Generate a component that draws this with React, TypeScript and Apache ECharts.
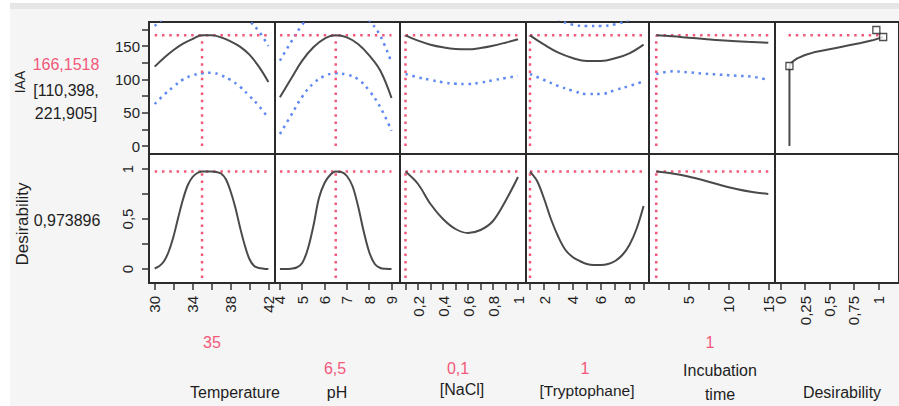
import React, { useEffect, useRef } from "react";
import * as echarts from "echarts";

// ---------- current settings ----------
const IAA_CURRENT = 166.1518;
const DES_CURRENT = 0.973896;

// ---------- Temperature ----------
const tempX = [30, 31, 32, 33, 34, 35, 36, 37, 38, 39, 40, 41, 42];
const tempMean = [119, 132.5, 144, 153.5, 160.5, 166, 166, 163, 157, 149, 137, 119, 96];
const tempLower = [63, 77, 89, 100, 106, 109, 110, 106, 99, 89, 75, 60, 42];
const tempUpper = [180, 192, 199, 207, 215, 223, 222, 220, 215, 205, 188, 172, 150];
const tempDesX = [30, 30.5, 31, 31.5, 32, 32.5, 33, 33.5, 34, 34.5, 35, 35.5, 36, 36.5, 37, 37.5, 38, 38.5, 39, 39.5, 40, 40.5, 41, 41.5, 42];
const tempDes = [0.005, 0.03, 0.08, 0.18, 0.33, 0.52, 0.7, 0.84, 0.92, 0.96, 0.974, 0.975, 0.975, 0.97, 0.955, 0.9, 0.78, 0.62, 0.42, 0.24, 0.1, 0.03, 0.01, 0.003, 0];
const tempTicks = [30, 32, 34, 36, 38, 40, 42];
const tempLabels = [30, 34, 38, 42];

// ---------- pH ----------
const phX = [4, 4.5, 5, 5.5, 6, 6.5, 7, 7.5, 8, 8.5, 9];
const phMean = [73, 101, 128, 148, 161, 166, 163, 153, 136, 113, 72];
const phLower = [18, 46, 74, 94, 105, 109, 107, 100, 83, 58, 23];
const phUpper = [128, 156, 182, 202, 217, 223, 219, 206, 189, 165, 125];
const phDesX = [4, 4.25, 4.5, 4.75, 5, 5.25, 5.5, 5.75, 6, 6.25, 6.5, 6.75, 7, 7.25, 7.5, 7.75, 8, 8.25, 8.5, 8.75, 9];
const phDes = [0, 0, 0.003, 0.015, 0.06, 0.2, 0.43, 0.71, 0.86, 0.94, 0.974, 0.97, 0.93, 0.83, 0.63, 0.38, 0.17, 0.05, 0.01, 0.002, 0];
const phTicks = [4, 5, 6, 7, 8, 9];
const phLabels = [4, 5, 6, 7, 8, 9];

// ---------- [NaCl] ----------
const naclX = [0.1, 0.2, 0.3, 0.4, 0.5, 0.6, 0.7, 0.8, 0.9, 1.0];
const naclMean = [166, 158, 152, 148, 145.5, 145, 147, 150.5, 155, 160];
const naclLower = [108, 103, 99, 95.5, 93.5, 93, 95, 98.5, 102, 105];
const naclUpper = [224, 213, 205, 200, 197.5, 197, 199, 202.5, 208, 215];
const naclDes = [0.974, 0.85, 0.65, 0.5, 0.4, 0.36, 0.39, 0.48, 0.68, 0.92];
const naclTicks = [0.1, 0.2, 0.3, 0.4, 0.5, 0.6, 0.7, 0.8, 0.9, 1];
const naclLabels = [0.2, 0.4, 0.6, 0.8, 1];

// ---------- [Tryptophane] ----------
const trypX = [1, 2, 3, 4, 5, 6, 7, 8, 9];
const trypMean = [166, 152, 140, 132, 127.5, 127.5, 131.5, 139, 152];
const trypLower = [108, 99, 90, 83, 78, 78, 84, 90, 97];
const trypUpper = [224, 205, 190, 182, 180, 180, 182.5, 190, 207];
const trypDesX = [1, 1.5, 2, 2.5, 3, 3.5, 4, 4.5, 5, 5.5, 6, 6.5, 7, 7.5, 8, 8.5, 9];
const trypDes = [0.974, 0.88, 0.7, 0.49, 0.32, 0.19, 0.12, 0.08, 0.05, 0.04, 0.04, 0.05, 0.08, 0.14, 0.24, 0.4, 0.63];
const trypTicks = [1, 2, 3, 4, 5, 6, 7, 8, 9];
const trypLabels = [2, 4, 6, 8];

// ---------- Incubation time ----------
const incX = [1, 3, 5, 7, 9, 11, 13, 15];
const incMean = [166, 164.5, 162.5, 160.5, 158.5, 157, 156, 155];
const incLower = [108, 112, 110.5, 108.5, 107, 105.5, 104, 99];
const incUpper = [224, 217, 214.5, 212.5, 210, 208.5, 208, 211];
const incDes = [0.974, 0.955, 0.925, 0.885, 0.84, 0.8, 0.77, 0.75];
const incTicks = [2.5, 5, 7.5, 10, 12.5, 15];
const incLabels = [5, 10, 15];

// ---------- Desirability function (IAA vs desirability) ----------
const desFnX = [0.09, 0.09, 0.095, 0.11, 0.14, 0.17, 0.25, 0.34, 0.46, 0.58, 0.7, 0.82, 0.94, 1.05];
const desFnY = [0, 118, 121.5, 125, 128.5, 131.5, 136.5, 140.5, 144, 147.5, 151, 154.5, 158.5, 163.5];
const handleX = [0.09, 1.05, 0.98];
const handleY = [120, 163.5, 174];
const desTicks = [0, 0.25, 0.5, 0.75, 1];
const desLabels = [0, 0.25, 0.5, 0.75, 1];

// ---------- response axes ----------
const iaaTicks = [0, 25, 50, 75, 100, 125, 150, 175];
const iaaLabels = [0, 50, 100, 150];
const dTicks = [0, 0.25, 0.5, 0.75, 1];
const dLabels = [0, 0.5, 1];

const FONT = '"Liberation Sans", Arial, Helvetica, sans-serif';
const RED = "#f2587a";
const BLUE = "#5f88f2";
const CURVE = "#4a4a4a";
const TEXT = "#1e1e1e";

const fmt = (v: number) => String(v).replace(".", ",");
const zip = (a: number[], b: number[]) => a.map((v, i) => [v, b[i]]);

const factors = [
  { x: tempX, mean: tempMean, lower: tempLower, upper: tempUpper, dx: tempDesX, d: tempDes, cur: 35, min: 29.4, max: 42.7, ticks: tempTicks, labels: tempLabels },
  { x: phX, mean: phMean, lower: phLower, upper: phUpper, dx: phDesX, d: phDes, cur: 6.5, min: 3.78, max: 9.38, ticks: phTicks, labels: phLabels },
  { x: naclX, mean: naclMean, lower: naclLower, upper: naclUpper, dx: naclX, d: naclDes, cur: 0.1, min: 0.056, max: 1.064, ticks: naclTicks, labels: naclLabels },
  { x: trypX, mean: trypMean, lower: trypLower, upper: trypUpper, dx: trypDesX, d: trypDes, cur: 1, min: 0.72, max: 9.38, ticks: trypTicks, labels: trypLabels },
  { x: incX, mean: incMean, lower: incLower, upper: incUpper, dx: incX, d: incDes, cur: 1, min: 0.09, max: 15.84, ticks: incTicks, labels: incLabels },
];

const colLeft = [149, 275, 400, 526, 649, 775];
const colWidth = [126, 125, 126, 123, 126, 124];

function buildOption() {
  const grids: any[] = [];
  const xAxes: any[] = [];
  const yAxes: any[] = [];
  const series: any[] = [];

  for (let i = 0; i < 12; i++) {
    const col = i % 6;
    const row = Math.floor(i / 6);
    grids.push({
      left: colLeft[col],
      width: colWidth[col],
      top: row === 0 ? 22 : 154,
      height: row === 0 ? 132 : 129,
      show: true,
      backgroundColor: "#ffffff",
      borderColor: "#2b2b2b",
      borderWidth: 2,
    });
    const f = col < 5 ? factors[col] : null;
    xAxes.push({
      type: "value",
      gridIndex: i,
      position: "bottom",
      min: f ? f.min : -0.058,
      max: f ? f.max : 1.212,
      show: row === 1,
      axisLine: { show: false, onZero: false },
      splitLine: { show: false },
      axisTick: {
        show: true,
        inside: false,
        length: 7,
        lineStyle: { color: "#333", width: 1.5 },
        customValues: f ? f.ticks : desTicks,
      },
      axisLabel: {
        rotate: 90,
        margin: 13,
        fontSize: 15,
        fontFamily: FONT,
        color: TEXT,
        customValues: f ? f.labels : desLabels,
        formatter: fmt,
      },
    });
    yAxes.push({
      type: "value",
      gridIndex: i,
      position: "left",
      min: row === 0 ? -12 : -0.14,
      max: row === 0 ? 186 : 1.15,
      show: col === 0,
      axisLine: { show: false, onZero: false },
      splitLine: { show: false },
      axisTick: {
        show: true,
        inside: false,
        length: 7,
        lineStyle: { color: "#333", width: 1.5 },
        customValues: row === 0 ? iaaTicks : dTicks,
      },
      axisLabel: {
        rotate: row === 0 ? 0 : 90,
        margin: row === 0 ? 9 : 14,
        fontSize: 15,
        fontFamily: FONT,
        color: TEXT,
        customValues: row === 0 ? iaaLabels : dLabels,
        formatter: fmt,
      },
    });
  }

  const dottedRed = { color: RED, width: 2.5, type: [2.5, 4.8] };
  const dottedBlue = { color: BLUE, width: 2.5, type: [2.5, 4.6] };
  const base = { type: "line", showSymbol: false, symbol: "none", silent: true, animation: false };

  factors.forEach((f, col) => {
    const xmin = f.x[0];
    const xmax = f.x[f.x.length - 1];
    // top row
    series.push({ ...base, xAxisIndex: col, yAxisIndex: col, smooth: 0.4, data: zip(f.x, f.upper), lineStyle: dottedBlue, z: 2 });
    series.push({ ...base, xAxisIndex: col, yAxisIndex: col, smooth: 0.4, data: zip(f.x, f.lower), lineStyle: dottedBlue, z: 2 });
    series.push({ ...base, xAxisIndex: col, yAxisIndex: col, data: [[xmin, IAA_CURRENT], [xmax, IAA_CURRENT]], lineStyle: dottedRed, z: 3 });
    series.push({ ...base, xAxisIndex: col, yAxisIndex: col, data: [[f.cur, 0], [f.cur, IAA_CURRENT]], lineStyle: dottedRed, z: 3 });
    series.push({ ...base, xAxisIndex: col, yAxisIndex: col, smooth: 0.4, data: zip(f.x, f.mean), lineStyle: { color: CURVE, width: 2 }, z: 4 });
    // bottom row
    const b = col + 6;
    series.push({ ...base, xAxisIndex: b, yAxisIndex: b, data: [[xmin, DES_CURRENT], [xmax, DES_CURRENT]], lineStyle: dottedRed, z: 3 });
    series.push({ ...base, xAxisIndex: b, yAxisIndex: b, data: [[f.cur, -0.09], [f.cur, DES_CURRENT]], lineStyle: dottedRed, z: 3 });
    series.push({ ...base, xAxisIndex: b, yAxisIndex: b, smooth: 0.35, data: zip(f.dx, f.d), lineStyle: { color: CURVE, width: 2 }, z: 4 });
  });

  // desirability function panel
  series.push({ ...base, xAxisIndex: 5, yAxisIndex: 5, data: [[0.08, IAA_CURRENT], [1.05, IAA_CURRENT]], lineStyle: dottedRed, z: 3 });
  series.push({ ...base, xAxisIndex: 5, yAxisIndex: 5, data: zip(desFnX, desFnY), lineStyle: { color: CURVE, width: 2 }, z: 4 });
  series.push({
    type: "scatter",
    xAxisIndex: 5,
    yAxisIndex: 5,
    symbol: "rect",
    symbolSize: 7,
    silent: true,
    data: zip(handleX, handleY),
    itemStyle: { color: "#ffffff", borderColor: "#222", borderWidth: 1.3 },
    z: 5,
  });

  const t = (text: string, x: number, y: number, opts: any = {}) => ({
    type: "text",
    x,
    y,
    rotation: opts.rotation || 0,
    silent: true,
    style: {
      text,
      fill: opts.fill || TEXT,
      fontSize: opts.fontSize || 15,
      fontFamily: FONT,
      align: "center",
      verticalAlign: "middle",
      textAlign: "center",
      textVerticalAlign: "middle",
    },
  });

  const graphic = [
    { type: "rect", silent: true, shape: { x: 0, y: 0, width: 10, height: 406 }, style: { fill: "#ffffff" } },
    { type: "rect", silent: true, shape: { x: 0, y: 0, width: 899, height: 3 }, style: { fill: "#ffffff" } },
    { type: "rect", silent: true, shape: { x: 10, y: 3, width: 889, height: 6 }, style: { fill: "#e6e6e6" } },
    t("166,1518", 66, 64, { fill: RED, fontSize: 16 }),
    t("[110,398,", 66, 90, { fontSize: 16 }),
    t("221,905]", 66, 113, { fontSize: 16 }),
    t("IAA", 20, 82, { rotation: Math.PI / 2, fontSize: 14 }),
    t("Desirability", 22, 224, { rotation: Math.PI / 2, fontSize: 17 }),
    t("0,973896", 67, 220, { fontSize: 16 }),
    t("35", 212, 342, { fill: RED, fontSize: 16 }),
    t("6,5", 335, 368, { fill: RED, fontSize: 16 }),
    t("0,1", 458, 368, { fill: RED, fontSize: 16 }),
    t("1", 585, 368, { fill: RED, fontSize: 16 }),
    t("1", 710, 342, { fill: RED, fontSize: 16 }),
    t("Temperature", 235, 392, { fontSize: 16 }),
    t("pH", 337, 392, { fontSize: 16 }),
    t("[NaCl]", 462, 389, { fontSize: 16 }),
    t("[Tryptophane]", 587, 390, { fontSize: 15.5 }),
    t("Incubation", 720, 370, { fontSize: 16 }),
    t("time", 720, 394, { fontSize: 16 }),
    t("Desirability", 842, 392, { fontSize: 16 }),
  ];

  return {
    animation: false,
    backgroundColor: "#f5f5f5",
    textStyle: { fontFamily: FONT },
    grid: grids,
    xAxis: xAxes,
    yAxis: yAxes,
    series,
    graphic,
  };
}

export default function App() {
  const ref = useRef<HTMLDivElement>(null);
  useEffect(() => {
    if (!ref.current) return;
    const chart = echarts.init(ref.current, undefined, { renderer: "svg" });
    chart.setOption(buildOption() as any);
    return () => chart.dispose();
  }, []);
  return <div ref={ref} style={{ position: "absolute", left: 0, top: 0, width: 899, height: 406 }} />;
}
